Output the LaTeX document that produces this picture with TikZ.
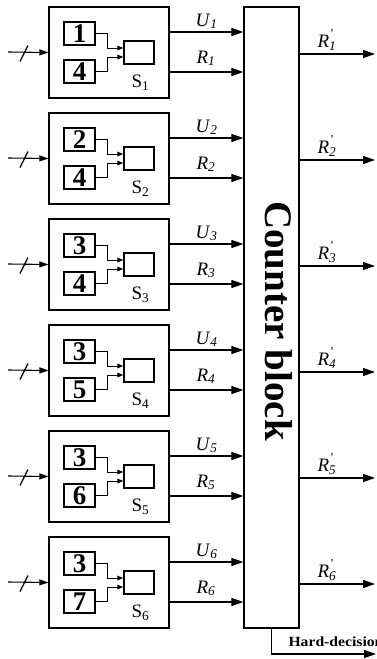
\documentclass[tikz,border=0pt]{standalone}
\usepackage{fontspec}
\setmainfont{Liberation Serif}
\usetikzlibrary{arrows.meta,calc}
\newcommand{\fsz}[1]{\fontsize{#1}{#1}\selectfont}
\begin{document}
\begin{tikzpicture}[x=1pt,y=-1pt,
  line width=1pt,
  outerbox/.style={draw,line width=1.2pt,minimum width=120pt,minimum height=91pt,inner sep=0pt},
  numbox/.style={draw,line width=1.2pt,minimum width=31pt,minimum height=23pt,inner sep=0pt,font=\fsz{27}\bfseries},
  smallbox/.style={draw,line width=1.2pt,minimum width=30pt,minimum height=23pt,inner sep=0pt},
  arr/.style={-{Triangle[length=12pt,width=8pt]},line width=1.1pt},
  inarr/.style={-{Triangle[length=9pt,width=6pt]},line width=1.1pt},
  smallarr/.style={-{Triangle[length=6pt,width=4.5pt]},line width=1pt},
  lab/.style={anchor=base west,inner sep=0pt,font=\fsz{19}},
  slab/.style={anchor=base west,inner sep=0pt,font=\fsz{19}}
]
\useasboundingbox (0,0) rectangle (376,659);
\clip (0,0) rectangle (376,659);

% counter block
\node[draw,line width=1.2pt,minimum width=55pt,minimum height=621pt,inner sep=0pt] (CB) at (271.5,317.5) {};
\node[rotate=-90,anchor=base,inner sep=0pt,font=\fsz{39}\bfseries] (CBT) at (265.5,321) {Counter block};

\foreach \i/\a/\b in {1/1/4,2/2/4,3/3/4,4/3/5,5/3/6,6/3/7}{
  \pgfmathsetmacro{\y}{(\i-1)*106}
  \node[outerbox] (S\i) at (109,52.5+\y) {};
  \node[numbox] (A\i) at (79.5,33.5+\y) {\a};
  \node[numbox] (B\i) at (79.5,71.5+\y) {\b};
  \node[smallbox] (C\i) at (139,52.5+\y) {};
  \draw[smallarr] (A\i.east) -- ++(12,0) |- ([yshift=4.5pt]C\i.west);
  \draw[smallarr] (B\i.east) -- ++(12,0) |- ([yshift=-4.5pt]C\i.west);
  \node[slab] (L\i) at (131,87.5+\y) {S\textsubscript{\i}};
  % input
  \coordinate (in\i) at (8,52+\y);
  \draw[inarr] (in\i) -- (S\i.west);
  \coordinate (sl\i) at (24,53.5+\y);
  \draw[line width=1.2pt] ([shift={(-4pt,-8pt)}]sl\i) -- ([shift={(4pt,8pt)}]sl\i);
  % outputs to counter
  \draw[arr] ([yshift=20.5pt]S\i.east) -- ([yshift=20.5pt]S\i.east -| CB.west);
  \draw[arr] ([yshift=-19.5pt]S\i.east) -- ([yshift=-19.5pt]S\i.east -| CB.west);
  \node[lab] (U\i) at (195,26+\y) {\textit{U}\textsubscript{\textit{\i}}};
  \node[lab] (R\i) at (196,63+\y) {\textit{R}\textsubscript{\textit{\i}}};
  % counter outputs
  \coordinate (o\i) at (375,54+\y);
  \draw[arr] (CB.east |- o\i) -- (o\i);
  \node[lab] (RP\i) at (317,47.5+\y) {\textit{R}\rlap{\raisebox{1.1ex}{\fsz{12}\textit{'}}}\textsubscript{\textit{\i}}};
}
% hard decision
\coordinate (hd) at (376,654);
\draw[arr] (CB.south) |- (hd);
\node[anchor=base west,inner sep=0pt,font=\fsz{14}\bfseries] (HDT) at (288,646) {\scalebox{1.12}[1]{Hard-decision}};
\end{tikzpicture}
\end{document}
